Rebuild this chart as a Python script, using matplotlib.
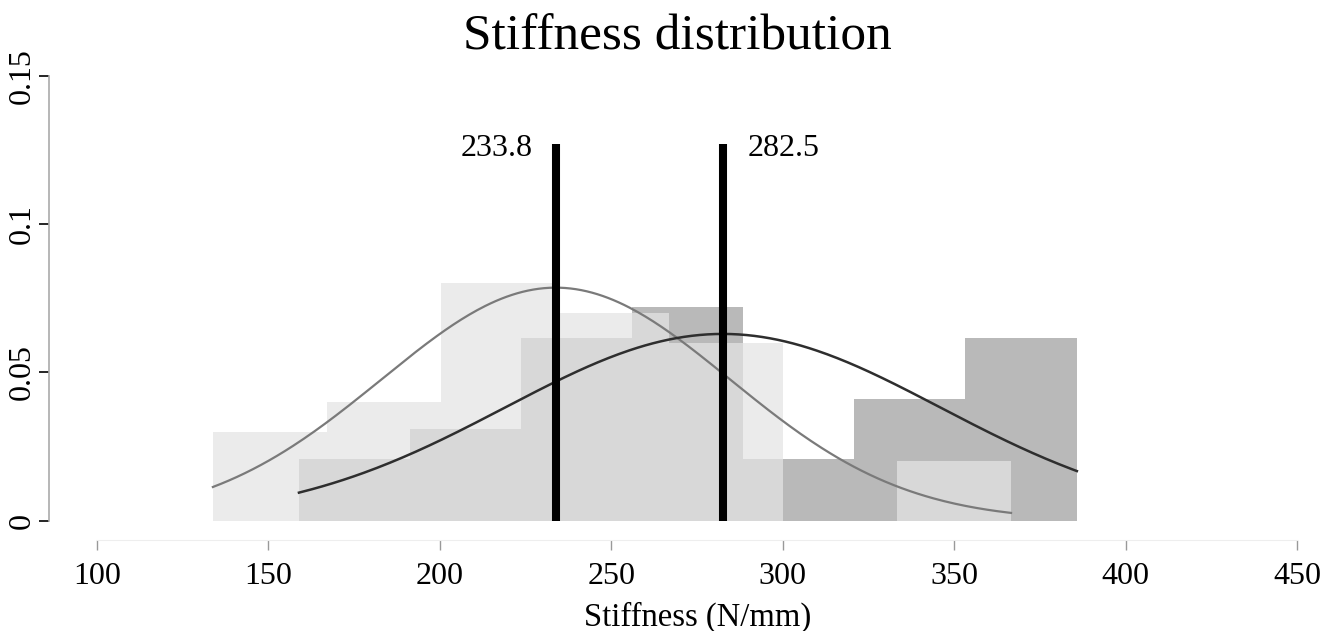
import numpy as np
import matplotlib
matplotlib.use("Agg")
import matplotlib.pyplot as plt

plt.rcParams["font.family"] = ["Liberation Serif", "DejaVu Serif"]

# histogram 1 (lower stiffness group)
light_edges = [133.8, 167.1, 200.3, 233.6, 266.9, 300.1, 333.4, 366.6]
light_heights = [0.030, 0.040, 0.080, 0.070, 0.060, 0.0, 0.020]
light_mean = 233.8
light_sd = 50.8

# histogram 2 (higher stiffness group)
dark_edges = [158.9, 191.3, 223.7, 256.0, 288.4, 320.8, 353.3, 385.8]
dark_heights = [0.0206, 0.0308, 0.0617, 0.0720, 0.0206, 0.0411, 0.0617]
dark_mean = 282.5
dark_sd = 63.4

curve_scale = 10  # density drawn x10 on this axis
line_top = 0.127

x_ticks = [100, 150, 200, 250, 300, 350, 400, 450]
y_ticks = [0, 0.05, 0.1, 0.15]
y_tick_labels = ["0", "0.05", "0.1", "0.15"]


def normal_curve(lo, hi, mean, sd):
    x = np.linspace(lo, hi, 300)
    y = curve_scale * np.exp(-0.5 * ((x - mean) / sd) ** 2) / (sd * np.sqrt(2 * np.pi))
    return x, y


def main():
    fig = plt.figure(figsize=(13.39, 6.31), dpi=100)
    W, H = 1339, 631
    ax = fig.add_axes([49 / W, (H - 540) / H, (1297 - 49) / W, (540 - 75.7) / H])
    ax.set_xlim(86.0, 450)
    ax.set_ylim(-0.00656, 0.15)

    # dark bars underneath, light bars on top with some transparency
    ax.bar(dark_edges[:-1], dark_heights, width=np.diff(dark_edges), align="edge",
           color="#b9b9b9", linewidth=0, zorder=1)
    ax.bar(light_edges[:-1], light_heights, width=np.diff(light_edges), align="edge",
           color="#e4e4e4", alpha=0.73, linewidth=0, zorder=2)

    xl, yl = normal_curve(light_edges[0], light_edges[-1], light_mean, light_sd)
    ax.plot(xl, yl, color="#7a7a7a", lw=1.6, zorder=3)
    xd, yd = normal_curve(dark_edges[0], dark_edges[-1], dark_mean, dark_sd)
    ax.plot(xd, yd, color="#2e2e2e", lw=1.8, zorder=3)

    for m in (light_mean, dark_mean):
        ax.plot([m, m], [0, line_top], color="black", lw=5.8, solid_capstyle="butt", zorder=4)
    ax.text(light_mean - 6.8, 0.123, "%.1f" % light_mean, ha="right", va="baseline", fontsize=23)
    ax.text(dark_mean + 7.3, 0.123, "%.1f" % dark_mean, ha="left", va="baseline", fontsize=23)

    for s in ("top", "right"):
        ax.spines[s].set_visible(False)
    ax.spines["left"].set_bounds(0, 0.15)
    ax.spines["left"].set_color("#aaaaaa")
    ax.spines["left"].set_linewidth(1.2)
    ax.spines["bottom"].set_bounds(100, 450)
    ax.spines["bottom"].set_color("#eeeeee")

    ax.set_xticks(x_ticks)
    ax.set_xticklabels([str(t) for t in x_ticks])
    ax.set_yticks(y_ticks)
    ax.set_yticklabels(y_tick_labels)
    ax.tick_params(axis="x", length=7.2, width=1.0, color="#999999", pad=8.5, labelsize=23)
    ax.tick_params(axis="y", length=7.2, width=1.2, color="black", pad=1.5, labelsize=23)
    for lbl in ax.get_yticklabels():
        lbl.set_rotation(90)
        lbl.set_va("center")

    ax.set_xlabel("Stiffness (N/mm)", fontsize=23.5, labelpad=2)
    ax.xaxis.set_label_coords((698 - 49) / (1297 - 49), -(626 - 540) / (540 - 75.7))
    ax.xaxis.label.set_va("baseline")

    fig.text(677 / W, 1 - 50 / H, "Stiffness distribution", ha="center", va="baseline", fontsize=37)

    fig.savefig("out.png", dpi=100)


if __name__ == "__main__":
    main()
